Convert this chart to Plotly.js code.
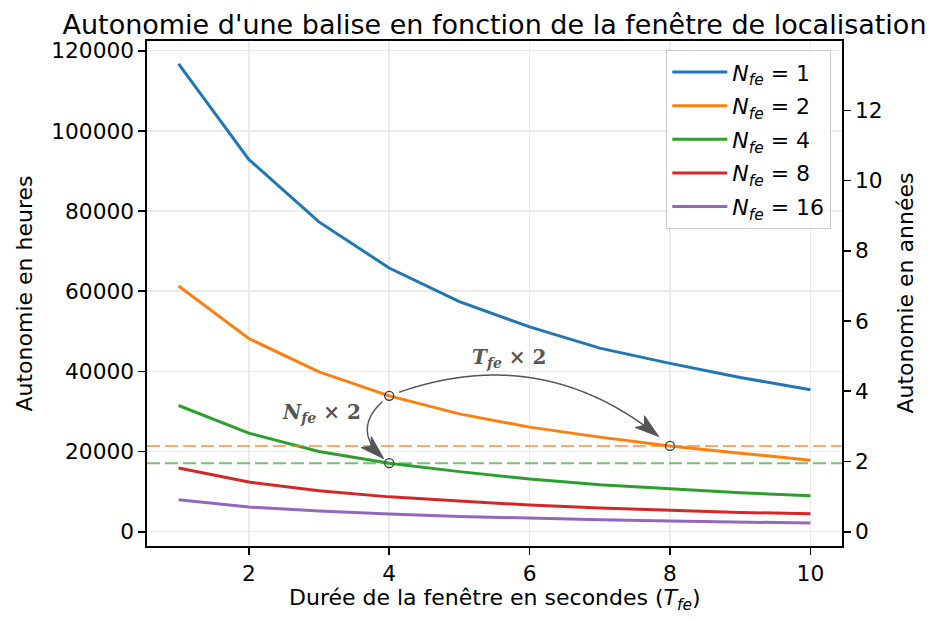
<!DOCTYPE html>
<html>
<head>
<meta charset="utf-8">
<script src="https://cdn.plot.ly/plotly-3.0.1.min.js"></script>
<style>html,body{margin:0;padding:0;background:#fff;}</style>
</head>
<body>
<div id="chart" style="width:934px;height:620px;"></div>
<script>
// ---- data ----
const T_fe = [1, 2, 3, 4, 5, 6, 7, 8, 9, 10];
const nfe1  = [116700, 92900, 77300, 65800, 57400, 51100, 45800, 42000, 38500, 35400];
const nfe2  = [61300, 48200, 39900, 33900, 29400, 26100, 23600, 21400, 19600, 17850];
const nfe4  = [31500, 24600, 20000, 17100, 15000, 13150, 11700, 10650, 9700, 8960];
const nfe8  = [15900, 12400, 10200, 8700, 7700, 6650, 5900, 5300, 4820, 4480];
const nfe16 = [7970, 6150, 5200, 4400, 3820, 3320, 2990, 2660, 2410, 2170];
const nfeLabels = ['1', '2', '4', '8', '16'];
const HOURS_PER_YEAR = 8760;

const series = [nfe1, nfe2, nfe4, nfe8, nfe16];
const colors = ['#1f77b4', '#ff7f0e', '#2ca02c', '#d62728', '#9467bd'];

// ---- geometry ----
const M = {l: 147, r: 92, t: 41, b: 74};
const FW = 934, FH = 620;
const W = FW - M.l - M.r, H = FH - M.t - M.b;
const xmin = Math.min(...T_fe), xmax = Math.max(...T_fe);
const xpad = 0.05 * (xmax - xmin);
const xr = [xmin - xpad, xmax + xpad];
const allY = series.flat();
const ymin = Math.min(...allY), ymax = Math.max(...allY);
const ypad = 0.05 * (ymax - ymin);
const yr = [ymin - ypad, ymax + ypad];

const xToPx = x => M.l + (x - xr[0]) / (xr[1] - xr[0]) * W;
const yToPx = y => M.t + (yr[1] - y) / (yr[1] - yr[0]) * H;
const pxToX = p => xr[0] + (p - M.l) / W * (xr[1] - xr[0]);
const pxToY = p => yr[1] - (p - M.t) / H * (yr[1] - yr[0]);

function curvedArrow(ax, ay, bx, by, rad, shrinkA, shrinkB) {
  const A = [xToPx(ax), yToPx(ay)], B = [xToPx(bx), yToPx(by)];
  const mx = (A[0] + B[0]) / 2, my = (A[1] + B[1]) / 2;
  const C = [mx - rad * (B[1] - A[1]), my + rad * (B[0] - A[0])];
  const pts = [];
  for (let i = 0; i <= 400; i++) {
    const t = i / 400, u = 1 - t;
    pts.push([u*u*A[0] + 2*u*t*C[0] + t*t*B[0], u*u*A[1] + 2*u*t*C[1] + t*t*B[1]]);
  }
  const dist = (p, q) => Math.hypot(p[0] - q[0], p[1] - q[1]);
  const clipped = pts.filter(p => dist(p, A) >= shrinkA && dist(p, B) >= shrinkB);
  const tip = clipped[clipped.length - 1];
  let k = clipped.length - 2;
  while (k > 0 && dist(clipped[k], tip) < 5) k--;
  const prev = clipped[k];
  let ux = tip[0] - prev[0], uy = tip[1] - prev[1];
  const n = Math.hypot(ux, uy); ux /= n; uy /= n;
  const nx = -uy, ny = ux;
  const Lh = 24, w = 7.5, notch = 6;
  const back = [tip[0] - Lh * ux, tip[1] - Lh * uy];
  const left = [back[0] + w * nx, back[1] + w * ny];
  const right = [back[0] - w * nx, back[1] - w * ny];
  const mid = [tip[0] - (Lh - notch) * ux, tip[1] - (Lh - notch) * uy];
  const linePts = clipped.filter(p => dist(p, tip) >= Lh - notch);
  linePts.push(mid);
  const toData = p => pxToX(p[0]) + ',' + pxToY(p[1]);
  const linePath = 'M' + linePts.map(toData).join('L');
  const headPath = 'M' + toData(tip) + 'L' + toData(left) + 'L' + toData(mid) + 'L' + toData(right) + 'Z';
  return [
    {type: 'path', xref: 'x', yref: 'y', path: linePath, line: {color: '#555555', width: 1.5}, layer: 'above'},
    {type: 'path', xref: 'x', yref: 'y', path: headPath, fillcolor: '#555555', line: {color: '#555555', width: 1}, layer: 'above'}
  ];
}

const traces = [];
// invisible trace to carry the right (years) axis
traces.push({
  x: T_fe, y: nfe1.map(v => v / HOURS_PER_YEAR), yaxis: 'y2', type: 'scatter', mode: 'lines',
  line: {width: 0, color: 'rgba(0,0,0,0)'}, showlegend: false, hoverinfo: 'skip'
});
series.forEach((s, i) => {
  traces.push({
    x: T_fe, y: s, type: 'scatter', mode: 'lines',
    name: '<i>N</i><sub><i>fe</i></sub> = ' + nfeLabels[i],
    line: {color: colors[i], width: 3},
    legendgroup: 'g' + i
  });
});
// highlighted points
traces.push({
  x: [T_fe[3], T_fe[3], T_fe[7]], y: [nfe2[3], nfe4[3], nfe2[7]],
  type: 'scatter', mode: 'markers', showlegend: false, hoverinfo: 'skip',
  marker: {symbol: 'circle-open', size: 9, color: '#333333', line: {width: 1.3, color: '#333333'}}
});

const shapes = [
  {type: 'line', xref: 'paper', x0: 0, x1: 1, yref: 'y', y0: nfe2[7], y1: nfe2[7],
   line: {color: 'rgba(255,127,14,0.65)', width: 2, dash: '13px,5px'}, layer: 'above'},
  {type: 'line', xref: 'paper', x0: 0, x1: 1, yref: 'y', y0: nfe4[3], y1: nfe4[3],
   line: {color: 'rgba(44,160,44,0.65)', width: 2, dash: '13px,5px'}, layer: 'above'},
  ...curvedArrow(T_fe[3], nfe2[3], T_fe[7], nfe2[7], -0.3, 10, 14),
  ...curvedArrow(T_fe[3], nfe2[3], T_fe[3], nfe4[3], 0.65, 9, 7)
];

const annFont = {family: 'DejaVu Serif', size: 20, color: '#555555'};
const labFont = {size: 22, color: '#000'};
const annotations = [
  {x: T_fe[3], y: nfe2[3], xref: 'x', yref: 'y', showarrow: false, xshift: 120, yshift: 38,
   text: '<b><i>T</i><sub><i>fe</i></sub> × 2</b>', font: annFont},
  {x: T_fe[3], y: nfe2[3], xref: 'x', yref: 'y', showarrow: false, xshift: -68, yshift: -17,
   text: '<b><i>N</i><sub><i>fe</i></sub> × 2</b>', font: annFont},
  {xref: 'paper', yref: 'paper', x: 0.5, y: 0, yshift: -53, xanchor: 'center', yanchor: 'middle', showarrow: false,
   text: 'Durée de la fenêtre en secondes (<i>T</i><sub><i>fe</i></sub>)', font: labFont},
  {xref: 'paper', yref: 'paper', x: 0, y: 0.5, xshift: -123, xanchor: 'center', yanchor: 'middle', textangle: -90, showarrow: false,
   text: 'Autonomie en heures', font: labFont},
  {xref: 'paper', yref: 'paper', x: 1, y: 0.5, xshift: 63, xanchor: 'center', yanchor: 'middle', textangle: -90, showarrow: false,
   text: 'Autonomie en années', font: labFont}
];

const axisCommon = {
  ticks: 'outside', ticklen: 7, tickwidth: 1.6, tickcolor: '#000',
  showline: true, linewidth: 1.6, linecolor: '#000',
  zeroline: false, tickfont: {size: 21.7, color: '#000'}
};

const layout = {
  width: FW, height: FH,
  margin: {l: M.l, r: M.r, t: M.t, b: M.b, pad: 0, autoexpand: false},
  paper_bgcolor: '#ffffff', plot_bgcolor: '#ffffff',
  font: {family: 'DejaVu Sans', size: 22, color: '#000'},
  title: {
    text: "Autonomie d'une balise en fonction de la fenêtre de localisation",
    font: {size: 27, color: '#000'}, x: 0.5, xref: 'paper', xanchor: 'center',
    y: 1, yref: 'paper', yanchor: 'bottom', pad: {b: 7}
  },
  xaxis: Object.assign({}, axisCommon, {
    range: xr, tick0: 0, dtick: 2, mirror: true,
    showgrid: true, gridcolor: '#ebebeb', gridwidth: 1.5
  }),
  yaxis: Object.assign({}, axisCommon, {
    range: yr, tick0: 0, dtick: 20000, tickformat: 'd', mirror: true,
    showgrid: true, gridcolor: '#ebebeb', gridwidth: 1.5
  }),
  yaxis2: Object.assign({}, axisCommon, {
    range: [yr[0] / HOURS_PER_YEAR, yr[1] / HOURS_PER_YEAR], overlaying: 'y', side: 'right',
    tick0: 0, dtick: 2, showgrid: false
  }),
  legend: {
    x: (831 - M.l) / W, y: (FH - M.b - 50) / H, xanchor: 'right', yanchor: 'top',
    bgcolor: 'rgba(255,255,255,0.8)', bordercolor: '#cccccc', borderwidth: 1.3,
    font: {size: 22, color: '#000'}, tracegroupgap: 2, itemwidth: 55
  },
  shapes: shapes,
  annotations: annotations,
  showlegend: true
};

Plotly.newPlot('chart', traces, layout, {displayModeBar: false, staticPlot: true});
</script>
</body>
</html>
